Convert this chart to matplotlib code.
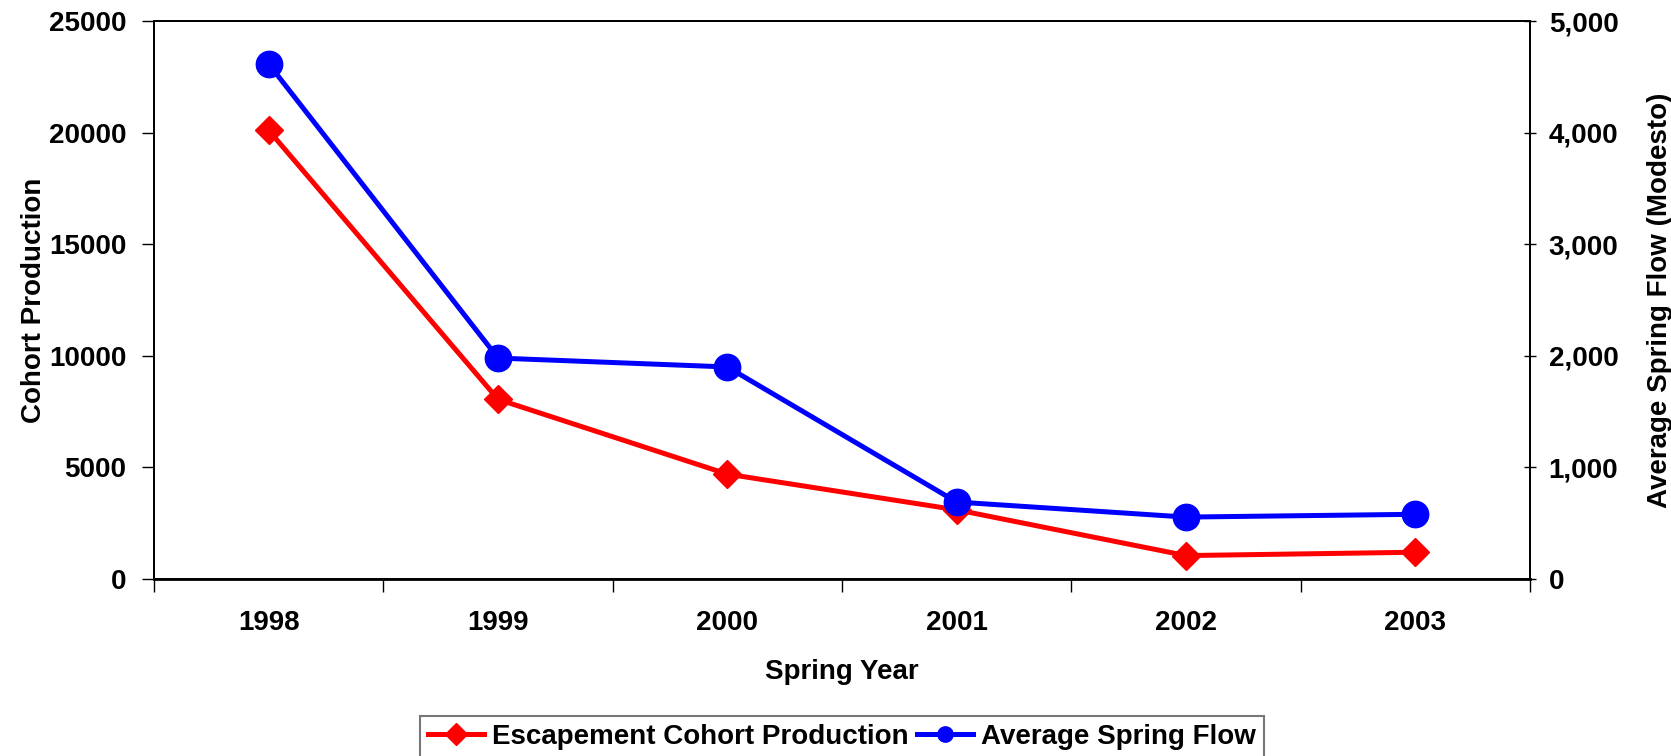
import matplotlib.pyplot as plt
from matplotlib.ticker import FuncFormatter, FixedLocator, NullFormatter

years = ["1998", "1999", "2000", "2001", "2002", "2003"]
cohort = [20100, 8050, 4700, 3100, 1050, 1200]
flow = [4615, 1980, 1900, 690, 555, 580]

plt.rcParams['font.family'] = ['Liberation Sans', 'DejaVu Sans']
plt.rcParams['font.weight'] = 'bold'
plt.rcParams['font.size'] = 20

fig = plt.figure(figsize=(16.71, 7.56), dpi=100)
ax = fig.add_axes([0.0922, 0.2341, 0.9156 - 0.0922, 0.9722 - 0.2341])
ax2 = ax.twinx()

xs = [i + 0.5 for i in range(len(years))]

l1, = ax.plot(xs, cohort, color='#ff0000', lw=3.6, marker='D', ms=14,
              label='Escapement Cohort Production')
l2, = ax2.plot(xs, flow, color='#0000ff', lw=3.6, marker='o', ms=19,
               label='Average Spring Flow')

ax.set_xlim(0, 6)
ax.set_ylim(0, 25000)
ax2.set_ylim(0, 5000)
ax.set_yticks(range(0, 25001, 5000))
ax2.set_yticks(range(0, 5001, 1000))
ax2.yaxis.set_major_formatter(FuncFormatter(lambda v, p: f"{int(v):,}"))

# year labels sit between the category ticks
ax.xaxis.set_major_locator(FixedLocator(range(0, 7)))
ax.xaxis.set_major_formatter(NullFormatter())
ax.xaxis.set_minor_locator(FixedLocator(xs))
ax.set_xticklabels(years, minor=True)
ax.tick_params(axis='x', which='major', length=9, width=1, direction='out')
ax.tick_params(axis='x', which='minor', length=0, pad=22, labelsize=20)
ax.tick_params(axis='y', length=9, width=1, direction='out', pad=11, labelsize=20)
ax2.tick_params(axis='y', length=9, width=1, direction='inout', pad=9, labelsize=20)

for a in (ax, ax2):
    for s in a.spines.values():
        s.set_linewidth(1.3)
ax.spines['bottom'].set_linewidth(2)

ax.set_xlabel('Spring Year', fontsize=20, fontweight='bold')
ax.set_ylabel('Cohort Production', fontsize=20, fontweight='bold')
ax2.set_ylabel('Average Spring Flow (Modesto)', fontsize=20, fontweight='bold')
ax.xaxis.set_label_coords(0.5, -0.143)
ax.yaxis.set_label_coords(-0.078, 0.5)
ax2.yaxis.set_label_coords(1.085, 0.5)

leg = fig.legend(handles=[l1, l2], loc='lower center', bbox_to_anchor=(0.504, -0.014),
                 ncol=2, frameon=True, fancybox=False, handlelength=2.0,
                 handletextpad=0.3, columnspacing=0.3, borderpad=0.3,
                 borderaxespad=0.3, prop={'size': 20, 'weight': 'bold'})
leg.get_frame().set_edgecolor('#555555')
leg.get_frame().set_linewidth(1.5)
for h in leg.legend_handles:
    h.set_markersize(11)

fig.savefig('out.png', dpi=100)
